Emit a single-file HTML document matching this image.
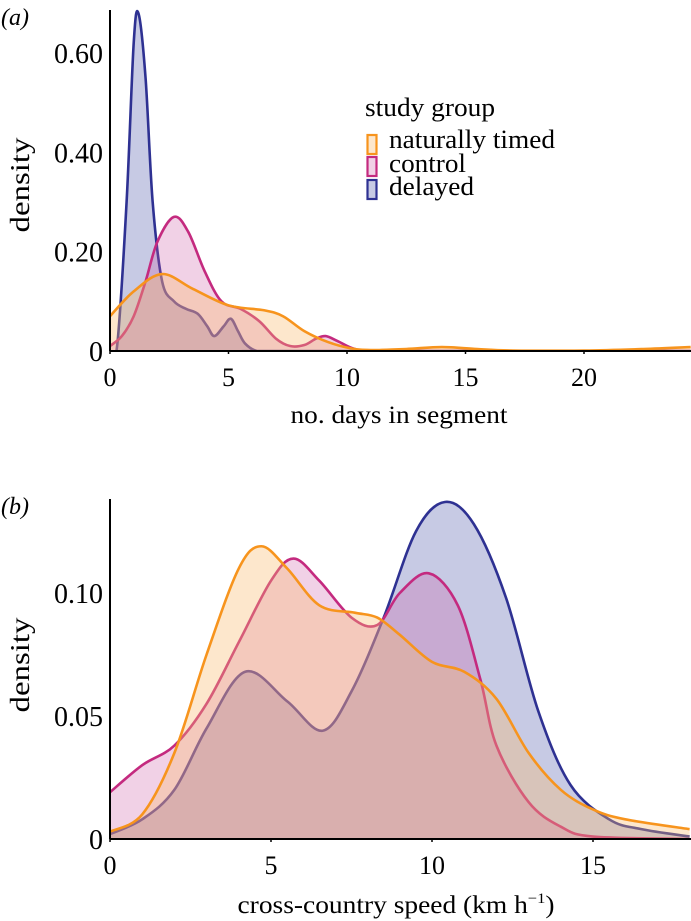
<!DOCTYPE html>
<html><head><meta charset="utf-8">
<style>
html,body{margin:0;padding:0;background:#fff;}
svg{display:block;font-family:"Liberation Serif",serif;}
</style></head>
<body>
<svg id="chart" width="691" height="921" viewBox="0 0 691 921"></svg>
<script>
// Panel (a): no. days in segment
const aDelayedX = [0,0.3,0.7,1.0,1.2,1.5,1.8,2.2,2.7,3.2,3.7,4.1,4.4,4.8,5.1,5.4,5.7,6.2,7,24.5];
const aDelayedY = [0,0.01,0.3,0.62,0.68,0.55,0.3,0.14,0.1,0.085,0.075,0.05,0.03,0.05,0.065,0.04,0.015,0,0,0];
const aControlX = [0,0.5,1,1.5,2,2.7,3.3,4,4.7,5.5,6.3,7,7.6,8.2,8.7,9.1,9.6,10.2,10.8,12,24.5];
const aControlY = [0.01,0.03,0.07,0.14,0.22,0.27,0.24,0.16,0.1,0.085,0.06,0.025,0.01,0.012,0.025,0.03,0.02,0.006,0,0,0];
const aNaturalX = [0,1,2.2,3.5,5,6.5,7.3,8.2,9.2,10.2,11,12.5,14,15.5,17,20,22.5,24.5];
const aNaturalY = [0.07,0.12,0.155,0.125,0.092,0.082,0.07,0.04,0.018,0.005,0.002,0.004,0.008,0.004,0.001,0.001,0.004,0.008];
const aXTicks = [0,5,10,15,20];
const aYTicks = [0,0.2,0.4,0.6];
const aYLabels = ["0","0.20","0.40","0.60"];
// Panel (b): cross-country speed
const bDelayedX = [0,1,2,3,4.2,5.5,6.6,7.5,8.5,9.5,10.4,11.3,12.3,13.3,14.3,15.5,16.5,18];
const bDelayedY = [0.002,0.008,0.02,0.045,0.068,0.056,0.044,0.06,0.09,0.125,0.137,0.128,0.098,0.052,0.022,0.008,0.004,0.001];
const bControlX = [0,1,2,3,4,5,5.7,6.5,7.5,8.3,9,9.9,10.8,11.5,12,13,14,15,18];
const bControlY = [0.019,0.03,0.038,0.055,0.08,0.105,0.114,0.105,0.09,0.087,0.1,0.108,0.095,0.065,0.038,0.015,0.005,0.001,0];
const bNaturalX = [0,1,2,3,4,4.7,5.5,6.5,7.6,8.3,9,10,11,12,13,14,15,16,18];
const bNaturalY = [0.003,0.01,0.035,0.075,0.11,0.119,0.11,0.095,0.092,0.09,0.083,0.072,0.068,0.057,0.035,0.02,0.012,0.008,0.004];
const bXTicks = [0,5,10,15];
const bYTicks = [0,0.05,0.1];
const bYLabels = ["0","0.05","0.10"];

const NS="http://www.w3.org/2000/svg";
const svg=document.getElementById('chart');
function mk(tag,attrs,parent){const e=document.createElementNS(NS,tag);for(const k in attrs)e.setAttribute(k,attrs[k]);(parent||svg).appendChild(e);return e;}

const colors={delayed:{s:"#2e3192",f:"rgba(70,80,165,0.30)"},control:{s:"#c42a7f",f:"rgba(205,90,165,0.28)"},natural:{s:"#f7941d",f:"rgba(250,185,110,0.35)"}};

function smoothPath(pts){
  let d="M"+pts[0][0]+","+pts[0][1];
  for(let i=0;i<pts.length-1;i++){
    const p0=pts[Math.max(0,i-1)],p1=pts[i],p2=pts[i+1],p3=pts[Math.min(pts.length-1,i+2)];
    const c1x=p1[0]+(p2[0]-p0[0])/6,c1y=p1[1]+(p2[1]-p0[1])/6;
    const c2x=p2[0]-(p3[0]-p1[0])/6,c2y=p2[1]-(p3[1]-p1[1])/6;
    d+=` C${c1x.toFixed(2)},${c1y.toFixed(2)} ${c2x.toFixed(2)},${c2y.toFixed(2)} ${p2[0].toFixed(2)},${p2[1].toFixed(2)}`;
  }
  return d;
}

function panel(cfg){
  const g=mk('g',{});
  
  
  const sx=v=>cfg.x0+(v-cfg.xmin)*(cfg.x1-cfg.x0)/(cfg.xmax-cfg.xmin);
  const sy=v=>cfg.y0-v*(cfg.y0-cfg.yTop)/cfg.ymaxVal;
  const clip=mk('clipPath',{id:cfg.name+'-clip'},g);
  mk('rect',{x:cfg.x0,y:0,width:691-cfg.x0,height:cfg.y0+1},clip);
  cfg.series.forEach(s=>{
    const pts=s.x.map((xv,i)=>[sx(xv),Math.min(sy(Math.max(0,s.y[i])),cfg.y0)]);
    let line=smoothPath(pts);
    const area=mk('path',{d:line+` L${pts[pts.length-1][0]},${cfg.y0} L${pts[0][0]},${cfg.y0} Z`,fill:colors[s.key].f,stroke:'none','clip-path':`url(#${cfg.name}-clip)`},g);
    
    
    const ln=mk('path',{d:line,fill:'none',stroke:colors[s.key].s,'stroke-width':2.6,'clip-path':`url(#${cfg.name}-clip)`},g);
    
    
  });
  const ax=mk('line',{x1:cfg.x0,y1:cfg.y0,x2:691,y2:cfg.y0,stroke:'#000','stroke-width':2},g);
  
  const ay=mk('line',{x1:cfg.x0,y1:cfg.axisTop,x2:cfg.x0,y2:cfg.y0,stroke:'#000','stroke-width':2},g);
  
  cfg.xt.forEach(t=>{
    const tk=mk('line',{x1:sx(t),y1:cfg.y0,x2:sx(t),y2:cfg.y0+3,stroke:'#000','stroke-width':1.5},g);
    
    const tx=mk('text',{x:sx(t),y:cfg.xtickY,'text-anchor':'middle','font-size':26},g);
    tx.textContent=t;
    
  });
  cfg.yt.forEach((t,i)=>{
    const tx=mk('text',{x:cfg.x0-7,y:sy(t)+10,'text-anchor':'end','font-size':28},g);
    tx.textContent=cfg.yl[i];
    
  });
  const xt=mk('text',{x:cfg.xtitleX,y:cfg.xtitleY,'text-anchor':'middle','font-size':25,textLength:cfg.xtitleW,lengthAdjust:'spacingAndGlyphs'},g);
  xt.innerHTML=cfg.xtitle;
  
  const yt=mk('text',{x:0,y:0,'text-anchor':'middle','font-size':27,textLength:95,lengthAdjust:'spacingAndGlyphs',transform:`translate(29,${cfg.ytitleY}) rotate(-90)`},g);
  yt.textContent='density';
  
  const pl=mk('text',{x:1,y:cfg.axisTop+15,'font-size':24,'font-style':'italic'},g);
  pl.textContent=cfg.label;
  
}

panel({name:'panel-a',x0:110,x1:584,xmin:0,xmax:20,y0:351,yTop:53,ymaxVal:0.6,axisTop:10,xtickY:386,
  series:[{key:'delayed',x:aDelayedX,y:aDelayedY},{key:'control',x:aControlX,y:aControlY},{key:'natural',x:aNaturalX,y:aNaturalY}],
  xt:aXTicks,yt:aYTicks,yl:aYLabels,xtitle:'no. days in segment',xtitleX:399,xtitleY:423,xtitleW:217,ytitleY:185,label:'(a)'});
panel({name:'panel-b',x0:110,x1:432,xmin:0,xmax:10,y0:839,yTop:593,ymaxVal:0.1,axisTop:499,xtickY:874,
  series:[{key:'delayed',x:bDelayedX,y:bDelayedY},{key:'control',x:bControlX,y:bControlY},{key:'natural',x:bNaturalX,y:bNaturalY}],
  xt:bXTicks,yt:bYTicks,yl:bYLabels,xtitle:'cross-country speed (km h<tspan font-size="15" dy="-10">−1</tspan><tspan dy="10">)</tspan>',xtitleX:396,xtitleY:913,xtitleW:317,ytitleY:665,label:'(b)'});

// legend
const lg=mk('g',{});


const lt=mk('text',{x:365,y:116,'font-size':26,textLength:130,lengthAdjust:'spacingAndGlyphs'},lg);
lt.textContent='study group';

[['natural','naturally timed',135,148,166],['control','control',157,172,77],['delayed','delayed',180,195,85]].forEach(e=>{
  const r=mk('rect',{x:367.5,y:e[2],width:9,height:19,fill:colors[e[0]].f,stroke:colors[e[0]].s,'stroke-width':2.2},lg);
  
  const t=mk('text',{x:389,y:e[3],'font-size':26,textLength:e[4],lengthAdjust:'spacingAndGlyphs'},lg);
  t.textContent=e[1];
  
});
</script>
</body></html>
